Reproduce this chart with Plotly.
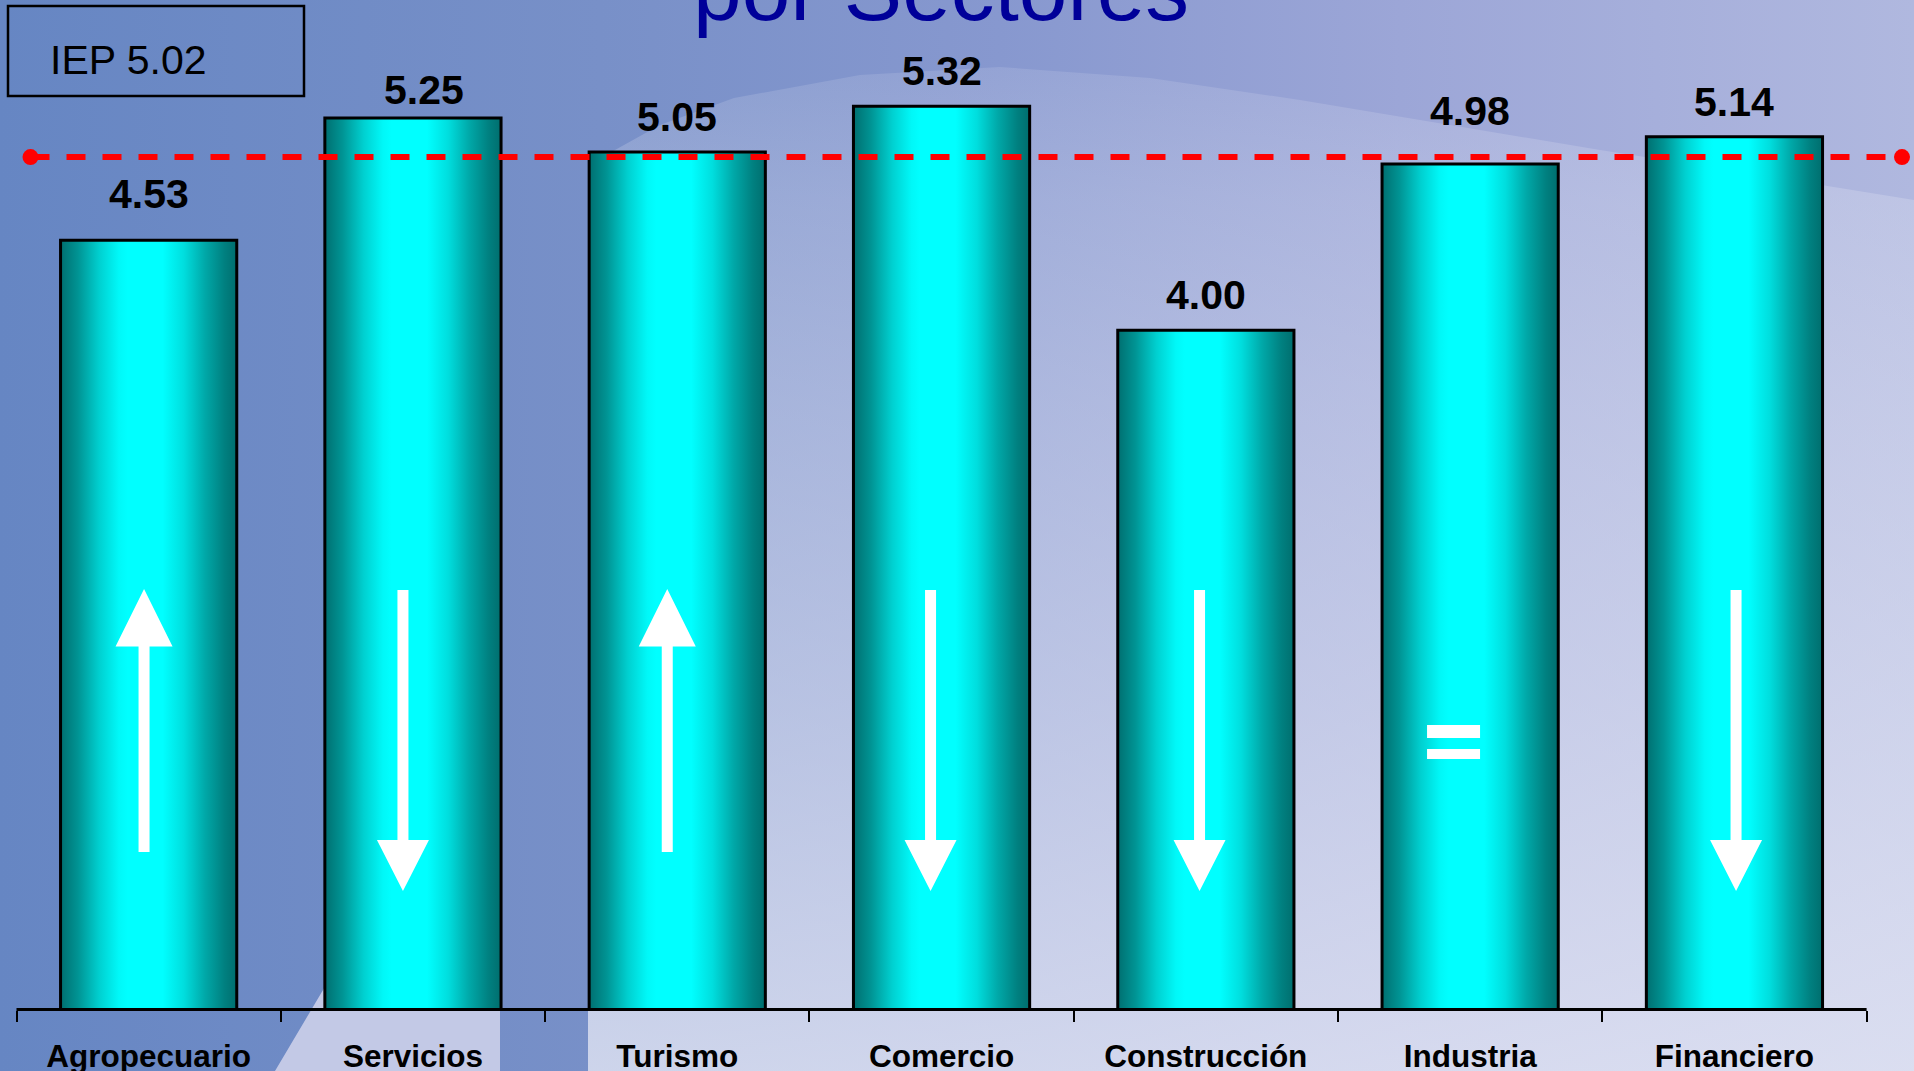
import plotly.graph_objects as go

# ---------------- data ----------------
categories = ["Agropecuario", "Servicios", "Turismo", "Comercio",
              "Construcción", "Industria", "Financiero"]
values = [4.53, 5.25, 5.05, 5.32, 4.00, 4.98, 5.14]
trend = ["up", "down", "up", "down", "down", "equal", "down"]
iep = 5.02
title_text = "por Sectores"

# ---------------- geometry / style ----------------
W, H = 1914, 1071
CAT_PX = 264.3        # pixel width of one category
AX_LEFT_PX = 16.5     # pixel x of left end of the category axis
UNIT_PX = 169.8       # pixels per value unit
BASE_PX = 1009.5      # pixel y of value 0


def X(p):
    return -0.5 + (p - AX_LEFT_PX) / CAT_PX


def Y(q):
    return (BASE_PX - q) / UNIT_PX


FONT = "Liberation Sans, Arial, sans-serif"
BAR_W = 2 / 3
label_gap_px = [46, 28, 35, 35, 35.6, 53, 34.5]
label_dx_px = [0, 11, 0, 0, 0, 0, 0]
mark_dx_px = [-4.6, -10, -10, -11, -6.3, -16.6, 1.6]

teal_scale = [[0.0, "#006f70"], [0.1, "#009494"], [0.22, "#00d0d0"],
              [0.33, "#00f8f8"], [0.38, "#00ffff"], [0.58, "#00ffff"],
              [0.7, "#00dede"], [0.82, "#00a8a8"], [0.93, "#008080"],
              [1.0, "#006e6e"]]

fig = go.Figure()

# ---------------- background (decorative slide backdrop) ----------------
fig.add_trace(go.Scatter(
    x=[X(0), X(W), X(W), X(0), X(0)], y=[Y(0), Y(0), Y(H), Y(H), Y(0)],
    mode="none", fill="toself",
    fillgradient=dict(type="horizontal", colorscale=[
        [0, "#6686c3"], [600 / W, "#7890c8"], [1000 / W, "#8798cf"],
        [1400 / W, "#9ca6d7"], [1, "#b0b8df"]]),
    hoverinfo="skip", showlegend=False))

# lighter swoosh region (top edge is a soft arc)
arc_px = [(588, 165), (660, 125), (734, 98), (860, 75), (1000, 67), (1150, 78),
          (1300, 100), (1450, 125), (1600, 150), (1760, 175), (W, 200)]
ox = [X(p[0]) for p in arc_px] + [X(W), X(588), X(588)]
oy = [Y(p[1]) for p in arc_px] + [Y(H), Y(H), Y(165)]
top_px = 67
span = H - top_px
fig.add_trace(go.Scatter(
    x=ox, y=oy, mode="none", fill="toself",
    fillgradient=dict(type="vertical", colorscale=[
        [0, "rgba(232,234,246,0.76)"], [(H - 700) / span, "rgba(232,234,246,0.54)"],
        [(H - 400) / span, "rgba(232,234,246,0.38)"],
        [(H - 200) / span, "rgba(232,234,246,0.26)"], [1, "rgba(232,234,246,0.14)"]]),
    hoverinfo="skip", showlegend=False))

fig.add_trace(go.Scatter(
    x=[X(275), X(323), X(500), X(500), X(275)], y=[Y(H), Y(990), Y(690), Y(H), Y(H)],
    mode="none", fill="toself", fillcolor="#c3c9e6",
    hoverinfo="skip", showlegend=False))

# ---------------- bars ----------------
for i, v in enumerate(values):
    h = BAR_W / 2
    fig.add_trace(go.Scatter(
        x=[i - h, i - h, i + h, i + h, i - h], y=[0, v, v, 0, 0],
        mode="lines", fill="toself",
        line=dict(color="black", width=3),
        fillgradient=dict(type="horizontal", colorscale=teal_scale),
        hoverinfo="skip", showlegend=False))

# ---------------- IEP reference line ----------------
fig.add_trace(go.Scatter(
    x=[X(30.5), X(1902)], y=[iep, iep], mode="lines+markers",
    line=dict(color="#ff0000", width=6, dash="19px,17px"),
    marker=dict(size=16, color="#ff0000"),
    hoverinfo="skip", showlegend=False))

shapes = []
annotations = []

# axis line
shapes.append(dict(type="line", xref="x", yref="y", x0=-0.5, x1=6.5, y0=0, y1=0,
                   line=dict(color="black", width=3)))

# trend marks
for i, t in enumerate(trend):
    cx = i + mark_dx_px[i] / CAT_PX
    sw = 11 / CAT_PX / 2
    if t == "up":
        hw = 57 / CAT_PX / 2
        bot, hb, tip = 0.928, 2.138, 2.476
        path = (f"M {cx - sw} {bot} L {cx - sw} {hb} L {cx - hw} {hb} L {cx} {tip} "
                f"L {cx + hw} {hb} L {cx + sw} {hb} L {cx + sw} {bot} Z")
        shapes.append(dict(type="path", xref="x", yref="y", path=path,
                           fillcolor="white", line=dict(width=0)))
    elif t == "down":
        hw = 52 / CAT_PX / 2
        top, hb, tip = 2.47, 0.998, 0.698
        path = (f"M {cx - sw} {top} L {cx - sw} {hb} L {cx - hw} {hb} L {cx} {tip} "
                f"L {cx + hw} {hb} L {cx + sw} {hb} L {cx + sw} {top} Z")
        shapes.append(dict(type="path", xref="x", yref="y", path=path,
                           fillcolor="white", line=dict(width=0)))
    else:
        ew = 53 / CAT_PX / 2
        for y0, y1 in [(1.599, 1.675), (1.475, 1.534)]:
            shapes.append(dict(type="rect", xref="x", yref="y", x0=cx - ew, x1=cx + ew,
                               y0=y0, y1=y1, fillcolor="white", line=dict(width=0)))

# value labels
for i, v in enumerate(values):
    annotations.append(dict(
        x=i + label_dx_px[i] / CAT_PX, y=v, xref="x", yref="y",
        text=f"{v:.2f}", showarrow=False, yanchor="middle", xanchor="center",
        yshift=label_gap_px[i],
        font=dict(family=FONT, size=41, color="black", weight="bold")))

# IEP box
shapes.append(dict(type="rect", xref="paper", yref="paper",
                   x0=8 / W, x1=304 / W, y0=1 - 96 / H, y1=1 - 6 / H,
                   line=dict(color="black", width=2.5), fillcolor="rgba(0,0,0,0)"))
annotations.append(dict(
    x=48 / W, y=1 - 59.8 / H, xref="paper", yref="paper", text=f"IEP {iep:.2f}",
    showarrow=False, xanchor="left", yanchor="middle",
    font=dict(family=FONT, size=41, color="black")))

# title (partially cut off at the top)
annotations.append(dict(
    x=940.5 / W, y=1 - 41 / H, xref="paper", yref="paper", text=title_text,
    showarrow=False, xanchor="center", yanchor="bottom",
    font=dict(family=FONT, size=87.5, color="#000099")))

fig.update_layout(
    width=W, height=H, autosize=False,
    margin=dict(l=0, r=0, t=0, b=0, pad=0),
    paper_bgcolor="#7890c8", plot_bgcolor="rgba(0,0,0,0)",
    showlegend=False, hovermode=False,
    shapes=shapes, annotations=annotations,
    xaxis=dict(range=[X(0), X(W)], anchor="free", position=(H - BASE_PX) / H,
               tickmode="array", tickvals=list(range(len(categories))), ticktext=categories,
               ticks="", showline=False, showgrid=False, zeroline=False,
               ticklabelstandoff=25, automargin=False,
               tickfont=dict(family=FONT, size=31.5, color="black", weight="bold"),
               minor=dict(tickmode="array",
                          tickvals=[i - 0.5 for i in range(len(categories) + 1)],
                          ticks="outside", ticklen=11, tickwidth=2, tickcolor="black",
                          showgrid=False)),
    yaxis=dict(range=[Y(H), Y(0)], visible=False, showgrid=False, zeroline=False),
)

fig.write_html("out.html", config={"displayModeBar": False},
               post_script="document.body.style.margin='0';"
                           "document.body.style.overflow='hidden';")
